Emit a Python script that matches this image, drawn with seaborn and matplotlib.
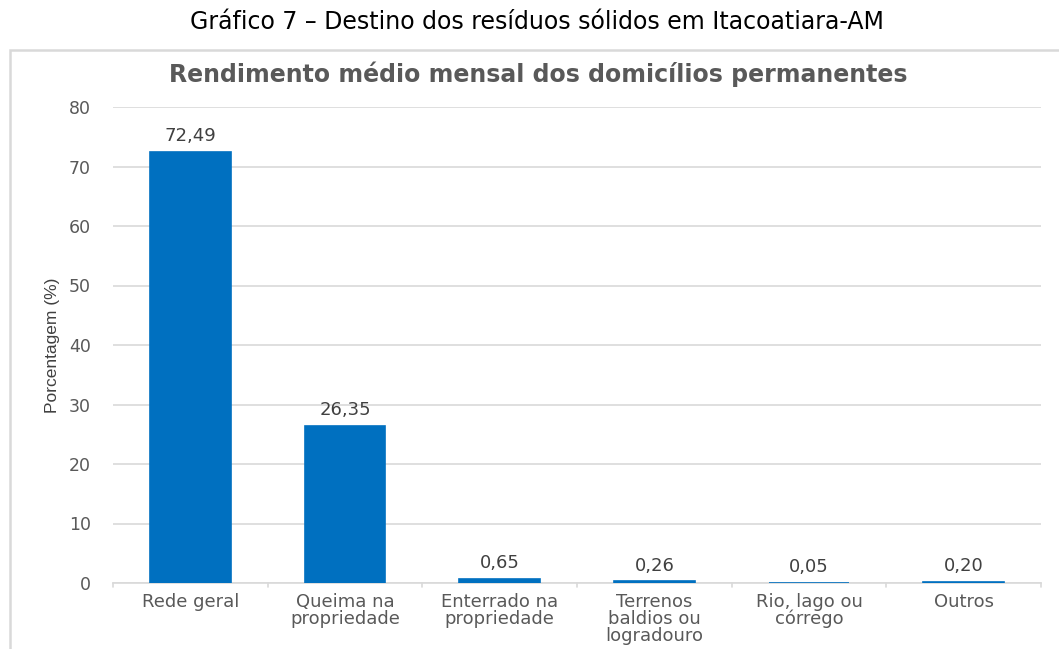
import matplotlib
matplotlib.use("Agg")
import matplotlib.pyplot as plt
from matplotlib.patches import Rectangle
import seaborn as sns
import pandas as pd

categorias = ["Rede geral", "Queima na\npropriedade", "Enterrado na\npropriedade",
              "Terrenos\nbaldios ou\nlogradouro", "Rio, lago ou\ncórrego", "Outros"]
percentuais = [72.49, 26.35, 0.65, 0.26, 0.05, 0.20]
rotulos = ["72,49", "26,35", "0,65", "0,26", "0,05", "0,20"]
ticks_y = [0, 10, 20, 30, 40, 50, 60, 70, 80]

sns.set_theme(style="white")
plt.rcParams["font.family"] = ["DejaVu Sans"]

W, H = 1059, 649
fig = plt.figure(figsize=(W / 100, H / 100), dpi=100)
fig.patch.set_facecolor("white")

# outer frame: only its top and left edges fall inside the canvas
fig.patches.append(Rectangle((9.5 / W, -0.2), 1.2, 1.2 - 50 / H,
                             transform=fig.transFigure, fill=False,
                             edgecolor="#d9d9d9", linewidth=1.8, zorder=0))

ax = fig.add_axes([113 / W, 1 - 583 / H, (1041 - 113) / W, (583 - 107) / H])

df = pd.DataFrame({"cat": categorias, "val": percentuais})
sns.barplot(data=df, x="cat", y="val", color="#0070C0", saturation=1,
            width=0.52, edgecolor="#0070C0", linewidth=1.2, ax=ax, zorder=3)

ax.set_ylim(0, 80)
ax.set_yticks(ticks_y)
ax.set_xlim(-0.5, len(categorias) - 0.5)
ax.yaxis.grid(True, color="#d9d9d9", linewidth=1.2, zorder=0)
ax.set_axisbelow(True)
for s in ["top", "right", "left"]:
    ax.spines[s].set_visible(False)
ax.spines["bottom"].set_color("#d9d9d9")
ax.spines["bottom"].set_linewidth(1.2)
ax.spines["bottom"].set_zorder(2)

ax.tick_params(axis="y", length=0, pad=16, labelsize=12.5, labelcolor="#595959")
ax.set_xticks(range(len(categorias)))
ax.set_xticklabels(categorias, fontsize=13, color="#595959", linespacing=0.95)
ax.tick_params(axis="x", length=0, pad=7)

# small separators between the categories on the baseline
for b in [i - 0.5 for i in range(len(categorias) + 1)]:
    ax.plot([b, b], [0, -0.7], color="#d9d9d9", linewidth=1.2,
            clip_on=False, zorder=2)

for i, (v, t) in enumerate(zip(percentuais, rotulos)):
    ax.annotate(t, (i, v), xytext=(0, 5), textcoords="offset points",
                ha="center", va="bottom", fontsize=13, color="#404040")

ax.set_xlabel("")
ax.set_ylabel("Porcentagem (%)", fontsize=12.5, color="#404040",
              family=["Liberation Sans", "DejaVu Sans"], labelpad=6)

fig.text(537 / W, 1 - 22 / H, "Gráfico 7 – Destino dos resíduos sólidos em Itacoatiara-AM",
         ha="center", va="center", fontsize=17, color="black")
fig.text(538 / W, 1 - 74 / H, "Rendimento médio mensal dos domicílios permanentes",
         ha="center", va="center", fontsize=17, fontweight="bold", color="#595959")

fig.savefig("out.png", dpi=100, facecolor="white")
